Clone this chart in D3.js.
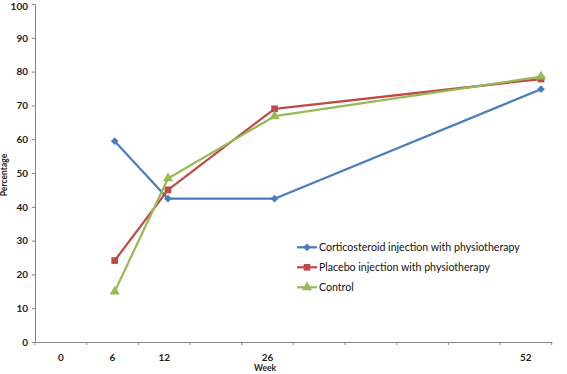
<!DOCTYPE html>
<html>
<head>
<meta charset="utf-8">
<script src="https://cdn.jsdelivr.net/npm/d3@7"></script>
<style>
  body { margin: 0; background: #fff; }
  text { font-family: Lato, "Open Sans", sans-serif; }
</style>
</head>
<body>
<div id="chart"></div>
<script>
// category axis labels (blank slots are empty categories)
const xLabels = ["0", "6", "12", "", "26", "", "", "", "", "52"];
// index of each measured week within the categories
const weekIndex = [1, 2, 4, 9];

const seriesNames = [
  "Corticosteroid injection with physiotherapy",
  "Placebo injection with physiotherapy",
  "Control"
];
const corticosteroid = [59.4, 42.4, 42.4, 74.8];
const placebo = [24.1, 45.0, 69.0, 77.8];
const control = [14.9, 48.4, 66.8, 78.5];

const yTicks = [0, 10, 20, 30, 40, 50, 60, 70, 80, 90, 100];

const width = 567, height = 374;
const colors = ["#4a7ebb", "#be4b48", "#98b954"];
const symbols = [d3.symbolSquare, d3.symbolSquare, d3.symbolTriangle];
const symSizes = [30, 45, 45];
const symRotate = [45, 0, 0];

const svg = d3.select("#chart")
  .append("svg")
  .attr("width", width)
  .attr("height", height);

// scales
const y = d3.scaleLinear().domain([0, 100]).range([342, 4]);
const xBand = d3.scaleBand().domain(d3.range(xLabels.length)).range([35, 551.7]);
const xPt = d3.scaleLinear().domain([0, xLabels.length - 1]).range([61.4, 541]);

// y axis
const yAxis = svg.append("g")
  .attr("transform", "translate(35,0)")
  .call(d3.axisLeft(y).tickValues(yTicks).tickSize(3).tickPadding(4));
yAxis.select(".domain").attr("stroke", "#868686");
yAxis.selectAll(".tick line").attr("stroke", "#868686");
yAxis.selectAll(".tick text")
  .attr("font-size", "10px")
  .attr("font-weight", "bold")
  .attr("fill", "#222");
// keep the top label inside the picture
yAxis.selectAll(".tick text")
  .filter(function (d) { return d === 100; })
  .attr("dy", "0.55em");

// x axis
const xAxis = svg.append("g")
  .attr("transform", "translate(0,342)")
  .call(d3.axisBottom(xBand).tickSize(0).tickPadding(12).tickFormat(function (i) {
    return xLabels[i];
  }));
xAxis.select(".domain").attr("stroke", "#868686");
xAxis.selectAll(".tick text")
  .attr("font-size", "10px")
  .attr("font-weight", "bold")
  .attr("fill", "#222");
// category boundary ticks
svg.append("g")
  .selectAll("line")
  .data(d3.range(xLabels.length + 1))
  .join("line")
  .attr("x1", function (i) { return 35 + i * xBand.step(); })
  .attr("x2", function (i) { return 35 + i * xBand.step(); })
  .attr("y1", 342)
  .attr("y2", 345)
  .attr("stroke", "#868686");

// axis titles
svg.append("text")
  .attr("transform", "translate(7,175) rotate(-90)")
  .attr("text-anchor", "middle")
  .attr("font-size", "8.5px")
  .attr("font-weight", "bold")
  .attr("fill", "#222")
  .text("Percentage");
svg.append("text")
  .attr("x", 265)
  .attr("y", 371)
  .attr("text-anchor", "middle")
  .attr("font-size", "8.5px")
  .attr("font-weight", "bold")
  .attr("fill", "#222")
  .text("Week");

// lines and markers
const allSeries = [corticosteroid, placebo, control];
const line = d3.line()
  .x(function (d, i) { return xPt(weekIndex[i]); })
  .y(function (d) { return y(d); });

allSeries.forEach(function (vals, s) {
  svg.append("path")
    .datum(vals)
    .attr("d", line)
    .attr("fill", "none")
    .attr("stroke", colors[s])
    .attr("stroke-width", 2.25)
    .attr("stroke-linejoin", "round");
  svg.append("g")
    .selectAll("path")
    .data(vals)
    .join("path")
    .attr("transform", function (d, i) {
      return `translate(${xPt(weekIndex[i])},${y(d)}) rotate(${symRotate[s]})`;
    })
    .attr("d", d3.symbol().type(symbols[s]).size(symSizes[s]))
    .attr("fill", colors[s]);
});

// legend
const legend = svg.append("g")
  .selectAll("g")
  .data(seriesNames)
  .join("g")
  .attr("transform", function (d, i) {
    return `translate(297,${247.3 + i * 20})`;
  });
legend.append("line")
  .attr("x1", 0).attr("x2", 20)
  .attr("stroke", function (d, i) { return colors[i]; })
  .attr("stroke-width", 2.25);
legend.append("path")
  .attr("transform", function (d, i) { return `translate(10,0) rotate(${symRotate[i]})`; })
  .attr("d", function (d, i) { return d3.symbol().type(symbols[i]).size(symSizes[i])(); })
  .attr("fill", function (d, i) { return colors[i]; });
legend.append("text")
  .attr("x", 22)
  .attr("y", 3.5)
  .attr("font-size", "10.6px")
  .attr("fill", "#111")
  .text(function (d) { return d; });
</script>
</body>
</html>
